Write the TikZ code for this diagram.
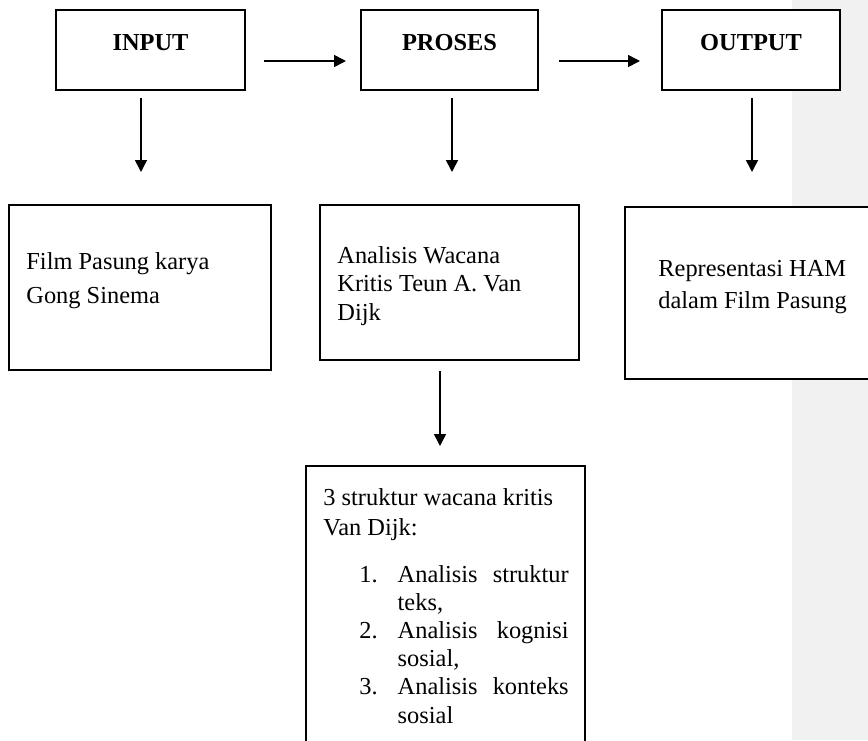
\documentclass[tikz,border=0pt]{standalone}
\usepackage{fontspec}
\setmainfont{Liberation Serif}
\usetikzlibrary{arrows.meta,calc}

\begin{document}
\begin{tikzpicture}[x=0.5pt,y=-0.5pt,
  font=\fontsize{12.2}{14.3}\selectfont,
  kotak/.style={draw,fill=white,line width=1pt,inner sep=0pt},
  judul/.style={kotak,minimum height=40pt,font=\fontsize{12.2}{14.3}\selectfont\bfseries,
    text height=8pt,text depth=8pt},
  isi/.style={anchor=base west,inner sep=0pt,align=flush left,text width=#1},
  isi/.default=110pt,
  panah/.style={line width=0.8pt,-{Triangle[length=6pt,width=6pt]}}]
% \clip (0,0) rectangle (868,740);
\useasboundingbox (0,0) rectangle (868,740);
\clip (0,0) rectangle (868,740);

% Changing color 241 241 241
\definecolor{abu}{HTML}{F1F1F1}%
\fill[abu] (792,0) rectangle (868,740);

% Drawing top row
\node[judul,minimum width=94.5pt] (input) at (150.5,50) {INPUT};
\node[judul,minimum width=88.5pt] (proses) at (449.5,50) {PROSES};
\node[judul,minimum width=89pt] (output) at (751,50) {OUTPUT};

% Drawing lower boxes
\node[kotak,minimum width=131pt,minimum height=82.5pt] (film) at (140,287.5) {};
\node[kotak,minimum width=129.5pt,minimum height=77.5pt] (wacana) at (449.5,282.5) {};
\node[kotak,minimum width=137.5pt,minimum height=86pt] (repr) at (762.5,293) {};
\node[kotak,minimum width=139.5pt,minimum height=167pt] (struktur) at (445.5,633) {};

% Drawing texts
\node[isi=110pt,font=\fontsize{12.2}{16.75}\selectfont] (filmteks) at (26,269.5)
  {Film Pasung karya\\Gong Sinema};
\node[isi=100pt] (wacanateks) at (337,263)
  {Analisis Wacana\\Kritis Teun A. Van\\Dijk};
\node[isi=100pt,font=\fontsize{12.2}{16}\selectfont] (reprteks) at (658,276)
  {Representasi HAM\\dalam Film Pasung};
\node[isi=125pt,font=\fontsize{12.2}{15}\selectfont] (strukteks) at (323,505)
  {3 struktur wacana kritis\\Van Dijk:};
\node[anchor=base west,inner sep=0pt,font=\fontsize{12.2}{14.1}\selectfont] (daftar) at (359,582)
  {\begin{tabular}[t]{@{}r@{\hspace{10pt}}l@{}}
   1. & \makebox[85.5pt][s]{Analisis struktur}\\
      & teks,\\
   2. & \makebox[85.5pt][s]{Analisis kognisi}\\
      & sosial,\\
   3. & \makebox[85.5pt][s]{Analisis konteks}\\
      & sosial
   \end{tabular}};

% Drawing arrows
\draw[panah] ($(input.east)+(18,11)$) -- ($(proses.west)+(-14,11)$);
\draw[panah] ($(proses.east)+(20,11)$) -- ($(output.west)+(-21,11)$);
\draw[panah] ($(input.south)+(-9.5,7)$) -- ($(film.north)+(1,-32)$);
\draw[panah] ($(proses.south)+(2.5,7)$) -- ($(wacana.north)+(2.5,-32)$);
\draw[panah] ($(output.south)+(1,7)$) -- ($(repr.north)+(-10.5,-34)$);
\draw[panah] ($(wacana.south)+(-9.5,10)$) -- ($(struktur.north)+(-5.5,-19)$);
\end{tikzpicture}
\end{document}
